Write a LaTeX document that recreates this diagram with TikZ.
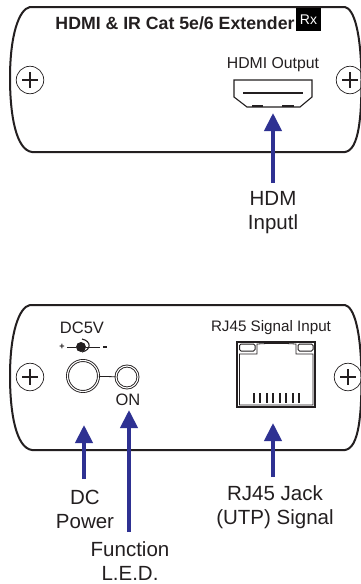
\documentclass[tikz,border=0pt]{standalone}
\usepackage{fontspec}
\setmainfont{Liberation Sans}
\usetikzlibrary{arrows.meta,positioning}
\definecolor{sig}{HTML}{2E3192}
\definecolor{ink}{HTML}{231F20}
\tikzset{
  panel/.style={draw=ink, line width=2pt},
  screw/.style={draw=ink, circle, line width=0.7pt, minimum size=27.5pt, inner sep=0pt},
  port/.style={draw=ink, line width=1.1pt},
  ring/.style={draw=ink, circle, double=white, double distance=1.1pt, line width=0.9pt, inner sep=0pt},
  lbl/.style={font=\fontsize{20.5}{24}\selectfont, align=center, text=ink, inner sep=0pt},
  txt/.style={font=\fontsize{15.2}{18}\selectfont, text=ink, inner sep=0pt},
  arr/.style={-{Triangle[length=18pt, width=17pt]}, draw=sig, fill=sig, line width=4pt}
}
\begin{document}
\begin{tikzpicture}[x=1pt, y=-1pt]
\useasboundingbox (0,0) rectangle (361,584);
\fill[white] (0,0) rectangle (361,584);
\foreach \y/\b in {7/top, 305/bot} {
  \draw[panel] (30,\y) -- (345,\y) .. controls (354,\y+2) and (361,\y+25) .. (361.5,\y+72)
    .. controls (361.5,\y+110) and (359,\y+143) .. (345,\y+145) -- (32,\y+145)
    .. controls (16,\y+143) and (10,\y+108) .. (10,\y+71) .. controls (10,\y+28) and (19,\y+2) .. (30,\y) -- cycle;
}
\foreach \x/\y/\n in {30/80/a, 350/80/b, 30/377/c, 348/377/d} {
  \node[screw] (s\n) at (\x,\y) {};
  \draw[ink, line width=1.5pt] (\x-8,\y) -- (\x+8,\y) (\x,\y-8) -- (\x,\y+8);
}
\node[font=\bfseries\fontsize{17.7}{20}\selectfont, text=ink, inner sep=0pt] (title) at (175,23) {HDMI \& IR Cat 5e/6 Extender};
\node[fill=black, text=white, font=\fontsize{14}{14}\selectfont, minimum width=25pt, minimum height=23pt, inner sep=0pt] (rx) at (308.5,19.5) {Rx};
\node[txt, font=\fontsize{15.8}{18}\selectfont] (hdmicap) at (273,65) {HDMI Output};
\draw[port] (234,80) -- (312,80) -- (312,97) -- (300,107) -- (247,107) -- (234,97) -- cycle;
\draw[ink, line width=2.2pt] (243,93) -- (303,93);
\draw[ink, line width=2pt] (252,106) -- (263,106) (282,106) -- (294,106);
\coordinate (hdmitip) at (273,113);
\coordinate (hdmitail) at (273,183);
\draw[arr] (hdmitail) -- (hdmitip);
\node[lbl] (hdmlbl) at (273,213) {HDM\\Inputl};
\node[txt, font=\fontsize{16.5}{18}\selectfont] (dccap) at (82,328) {DC5V};
\node[font=\bfseries\fontsize{9}{9}\selectfont, text=ink, inner sep=0pt] (plus) at (62,347) {+};
\node[circle, fill=ink, minimum size=10pt, inner sep=0pt] (pin) at (81,347) {};
\draw[ink, line width=1pt] (67,347) -- (pin) -- (100,347);
\draw[ink, line width=1.4pt] (103,347) -- (107,347);
\draw[ink, line width=1.1pt] (82,339) .. controls (91.5,341) and (91.5,350) .. (82,352);
\node[ring, minimum size=31pt] (jack) at (83,376) {};
\node[ring, minimum size=22pt] (led) at (127,377) {};
\draw[ink, line width=0.8pt] (jack) -- (led);
\node[txt, font=\fontsize{16.5}{18}\selectfont] (oncap) at (128,399.5) {ON};
\coordinate (dctip) at (84,425);
\coordinate (dctail) at (84,479);
\draw[arr] (dctail) -- (dctip);
\coordinate (ledtip) at (129,410);
\coordinate (ledtail) at (129,532);
\draw[arr] (ledtail) -- (ledtip);
\node[lbl] (dclbl) at (85,509) {DC\\Power};
\node[lbl] (ledlbl) at (130,561.5) {Function\\L.E.D.};
\node[txt] (rjcap) at (271,328) {RJ45 Signal Input};
\draw[port] (237,342) rectangle (315,407);
\draw[ink, line width=0.8pt] (239.5,354) -- (239.5,405) -- (313,405) -- (313,354) -- (296,354) -- (296,344) -- (286,343.5) -- (267,343.5) -- (257,344) -- (257,354) -- cycle;
\draw[ink, line width=1pt, rounded corners=1.5pt] (239.5,344) rectangle (255,351) (298,344) rectangle (313,351);
\foreach \i in {0,...,7} {
  \draw[ink, line width=2pt] (253.5+6.5*\i,393) -- (253.5+6.5*\i,403);
}
\coordinate (rjtip) at (273,423);
\coordinate (rjtail) at (273,477);
\draw[arr] (rjtail) -- (rjtip);
\node[lbl] (rjlbl) at (275,507) {RJ45 Jack\\(UTP) Signal};
\end{tikzpicture}
\end{document}
